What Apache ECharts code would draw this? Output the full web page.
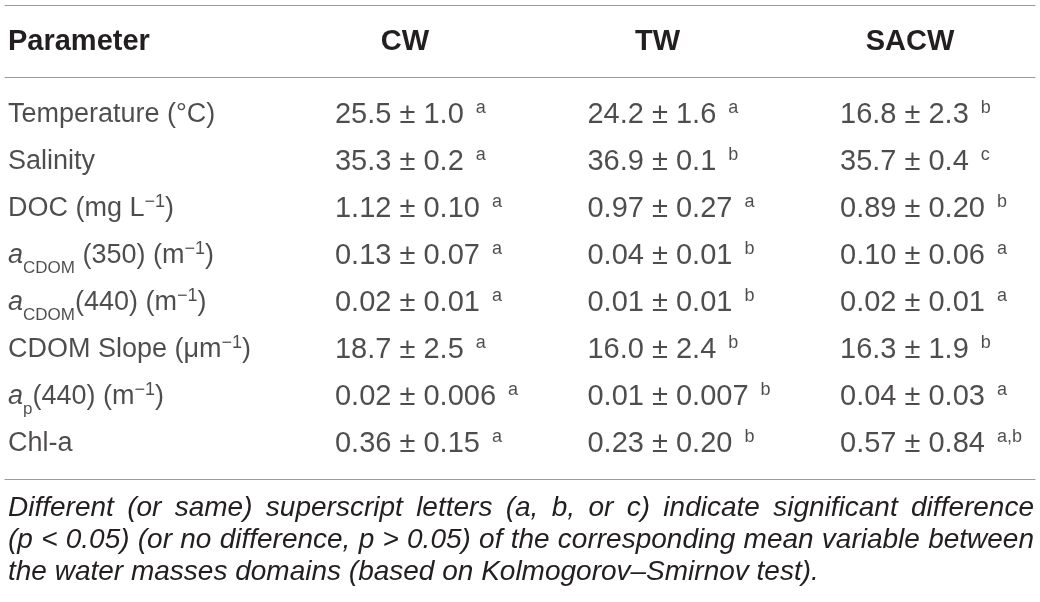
<!DOCTYPE html>
<html>
<head>
<meta charset="utf-8">
<script src="https://cdn.jsdelivr.net/npm/echarts@6/dist/echarts.min.js"></script>
<style>
  html, body { margin: 0; padding: 0; background: #fff; }
  #chart { width: 1040px; height: 602px; }
</style>
</head>
<body>
<div id="chart"></div>
<script>
// table content
const headers = ['Parameter', 'CW', 'TW', 'SACW'];
const parameters = [
    'Temperature (°C)',
    'Salinity',
    'DOC (mg L{sup|−1})',
    '{it|a}{sub|CDOM} (350) (m{sup|−1})',
    '{it|a}{sub|CDOM}(440) (m{sup|−1})',
    'CDOM Slope (μm{sup|−1})',
    '{it|a}{sub|p}(440) (m{sup|−1})',
    'Chl-a'
];
const cwMean = ['25.5', '35.3', '1.12', '0.13', '0.02', '18.7', '0.02', '0.36'];
const cwSd = ['1.0', '0.2', '0.10', '0.07', '0.01', '2.5', '0.006', '0.15'];
const cwSig = ['a', 'a', 'a', 'a', 'a', 'a', 'a', 'a'];
const twMean = ['24.2', '36.9', '0.97', '0.04', '0.01', '16.0', '0.01', '0.23'];
const twSd = ['1.6', '0.1', '0.27', '0.01', '0.01', '2.4', '0.007', '0.20'];
const twSig = ['a', 'b', 'a', 'b', 'b', 'b', 'b', 'b'];
const sacwMean = ['16.8', '35.7', '0.89', '0.10', '0.02', '16.3', '0.04', '0.57'];
const sacwSd = ['2.3', '0.4', '0.20', '0.06', '0.01', '1.9', '0.03', '0.84'];
const sacwSig = ['b', 'c', 'b', 'a', 'a', 'b', 'a', 'a,b'];
const footnote = [
    'Different (or same) superscript letters (a, b, or c) indicate significant difference',
    '(p < 0.05) (or no difference, p > 0.05) of the corresponding mean variable between',
    'the water masses domains (based on Kolmogorov–Smirnov test).'
];

const font = 'Liberation Sans';
const ink = '#231f20';
const ruleStyle = { color: '#9a9a9a', width: 1.2 };

const rich = {
    sup: { fontSize: 18, fontFamily: font, color: ink, padding: [0, 0, 12, 4] },
    psup: { fontSize: 18, fontFamily: font, color: ink, padding: [0, 0, 12, 0] },
    sub: { fontSize: 17, fontFamily: font, color: ink, padding: [25, 0, 0, 0] },
    it: { fontSize: 27, fontFamily: font, color: ink, fontStyle: 'italic' },
    first: { width: 289, align: 'left', fontSize: 29, fontWeight: 'bold', fontFamily: font, color: ink },
    head: { fontSize: 29, fontWeight: 'bold', fontFamily: font, color: ink }
};

// column / row scales
const xMin = -0.584, xMax = 3.495;
const yMin = -0.798, yMax = 7.755;

function cellLabel(formatter, dx, size) {
    return {
        show: true,
        position: 'inside',
        align: 'left',
        verticalAlign: 'middle',
        offset: [dx, 0],
        fontSize: size,
        fontFamily: font,
        color: ink,
        formatter: formatter,
        rich: rich
    };
}

function valueSeries(name, col, mean, sd, sig) {
    return {
        name: name,
        type: 'scatter',
        symbolSize: 1,
        itemStyle: { color: 'rgba(0,0,0,0)' },
        silent: true,
        data: mean.map((m, i) => [col, i]),
        label: cellLabel(p => mean[p.dataIndex] + ' ± ' + sd[p.dataIndex] + ' {sup|' + sig[p.dataIndex] + '}', -70, 29)
    };
}

const chart = echarts.init(document.getElementById('chart'));

// justified footnote, word by word
const ctx = document.createElement('canvas').getContext('2d');
const noteSize = 28;
ctx.font = 'italic ' + noteSize + 'px "' + font + '"';
const noteLeft = 8, noteRight = 1034;
const noteTop = 508, notePitch = 32;
const noteEls = [];
footnote.forEach((line, li) => {
    const words = line.split(' ');
    const widths = words.map(w => ctx.measureText(w).width);
    const total = widths.reduce((a, b) => a + b, 0);
    const justify = li < footnote.length - 1;
    const gap = justify ? (noteRight - noteLeft - total) / (words.length - 1) : ctx.measureText(' ').width;
    let x = noteLeft;
    words.forEach((w, wi) => {
        noteEls.push({
            type: 'text',
            x: x,
            y: noteTop + li * notePitch,
            silent: true,
            style: {
                text: w,
                fontSize: noteSize,
                fontStyle: 'italic',
                fontFamily: font,
                fill: ink,
                verticalAlign: 'middle'
            }
        });
        x += widths[wi] + gap;
    });
});

const hiddenAxis = {
    axisTick: { show: false }, axisLabel: { show: false }, splitLine: { show: false }
};

chart.setOption({
    backgroundColor: '#fff',
    animation: false,
    textStyle: { fontFamily: font, color: ink },
    grid: { left: 5, right: 5, top: 77, bottom: 123 },
    xAxis: [
        Object.assign({
            type: 'value', min: xMin, max: xMax, position: 'bottom',
            axisLine: { show: true, onZero: false, lineStyle: ruleStyle }
        }, hiddenAxis),
        {
            type: 'value', min: xMin, max: xMax, position: 'top',
            axisLine: { show: true, onZero: false, lineStyle: ruleStyle },
            axisTick: { show: false }, splitLine: { show: false },
            axisLabel: {
                show: true,
                customValues: [0, 1, 2, 3],
                margin: 35,
                verticalAlign: 'middle',
                formatter: v => {
                    const i = Math.round(v);
                    return i === 0 ? '{first|' + headers[i] + '}' : '{head|' + headers[i] + '}';
                },
                rich: rich
            }
        },
        Object.assign({
            type: 'value', min: xMin, max: xMax, position: 'top', offset: 72,
            axisLine: { show: true, onZero: false, lineStyle: ruleStyle }
        }, hiddenAxis)
    ],
    yAxis: { type: 'value', inverse: true, min: yMin, max: yMax, show: false },
    series: [
        {
            name: 'Parameter',
            type: 'scatter',
            symbolSize: 1,
            itemStyle: { color: 'rgba(0,0,0,0)' },
            silent: true,
            data: parameters.map((p, i) => [0, i]),
            label: cellLabel(p => parameters[p.dataIndex].replace(/\{sup\|/g, '{psup|'), -144.5, 27)
        },
        valueSeries('CW', 1, cwMean, cwSd, cwSig),
        valueSeries('TW', 2, twMean, twSd, twSig),
        valueSeries('SACW', 3, sacwMean, sacwSd, sacwSig)
    ],
    graphic: noteEls
});
</script>
</body>
</html>
